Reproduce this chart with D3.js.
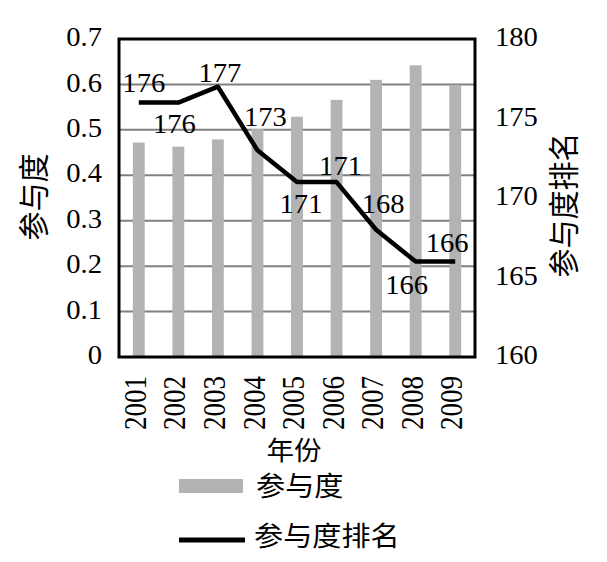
<!DOCTYPE html>
<html><head><meta charset="utf-8">
<script src="https://cdn.jsdelivr.net/npm/d3@7"></script>
<style>body{margin:0;background:#fff}
.sf{font-family:"Liberation Serif","DejaVu Serif","Times New Roman",serif}
.cj{font-family:"Noto Sans CJK SC","Noto Sans CJK JP",sans-serif}
</style>
</head><body>
<svg id="c" width="607" height="562"></svg>
<script>
const years = ["2001","2002","2003","2004","2005","2006","2007","2008","2009"];
const participation = [0.472,0.463,0.479,0.502,0.529,0.566,0.610,0.642,0.599];
const ranking = [176,176,177,173,171,171,168,166,166];
const leftTicks = [0,0.1,0.2,0.3,0.4,0.5,0.6,0.7];
const rightTicks = [160,165,170,175,180];
const labelOffsets = [[5,-11],[-4,30],[2,-5],[8,-24],[4,31],[4,-7],[7,-17],[-9,32],[-8,-10]];

const svg = d3.select("#c");
const L=119, R=475, T=39, B=357;

const x = d3.scaleBand().domain(years).range([L,R]).paddingInner(0.7).paddingOuter(0.35);
const y = d3.scaleLinear().domain([0,0.7]).range([B,T]);
const y2 = d3.scaleLinear().domain([160,180]).range([B,T]);

function txt(px, py, s, opt={}){
  const g = svg.append("g").attr("transform",`translate(${px},${py})${opt.rot?` rotate(${opt.rot})`:""}`);
  const sc = opt.rot ? `scale(1,${opt.sy||1})` : `scale(${opt.sx||1.06},1)`;
  g.append("text").attr("transform",sc)
    .attr("class", opt.cjk ? "cj" : "sf")
    .attr("text-anchor",opt.anchor||"middle")
    .attr("dominant-baseline",opt.baseline||"auto")
    .style("font-size",(opt.size||27)+"px")
    .attr("fill","#000").text(s);
}

// gridlines
svg.append("g").selectAll("line").data(leftTicks.filter(t=>t>0&&t<0.7)).join("line")
  .attr("x1",L).attr("x2",R).attr("y1",d=>y(d)).attr("y2",d=>y(d))
  .attr("stroke","#808080").attr("stroke-width",2);

// bars
svg.append("g").selectAll("rect").data(participation).join("rect")
  .attr("x",(d,i)=>x(years[i])).attr("width",x.bandwidth())
  .attr("y",d=>y(d)).attr("height",d=>B-y(d)).attr("fill","#b3b3b3");

// frame
svg.append("rect").attr("x",L).attr("y",T).attr("width",R-L).attr("height",B-T)
  .attr("fill","none").attr("stroke","#000").attr("stroke-width",3);

// line
const cx = i => x(years[i]) + x.bandwidth()/2;
svg.append("path").datum(ranking)
  .attr("d", d3.line().x((d,i)=>cx(i)).y(d=>y2(d)))
  .attr("fill","none").attr("stroke","#000").attr("stroke-width",4.5).attr("stroke-linejoin","round");

// line labels
ranking.forEach((v,i)=>{
  txt(cx(i)+labelOffsets[i][0], y2(v)+labelOffsets[i][1], String(v));
});

// left ticks
leftTicks.forEach(t=>txt(102, y(t)+1, String(t), {anchor:"end", baseline:"middle"}));
// right ticks
rightTicks.forEach(t=>txt(495, y2(t)+1, String(t), {anchor:"start", baseline:"middle"}));
// x ticks
years.forEach(yr=>txt(x(yr)+x.bandwidth()/2, 376, yr, {rot:-90, anchor:"end", baseline:"middle", size:27, sy:1.14}));

// axis titles
txt(294, 453, "年份", {cjk:true, size:26, sx:1.06, baseline:"middle"});
txt(37, 197, "参与度", {cjk:true, size:29, sy:1.05, rot:-90, baseline:"middle"});
txt(567, 205, "参与度排名", {cjk:true, size:29, sy:1.05, rot:-90, baseline:"middle"});

// legend
svg.append("rect").attr("x",179).attr("y",479).attr("width",64).attr("height",14).attr("fill","#b3b3b3");
txt(256, 489, "参与度", {cjk:true, size:27, sx:1.08, anchor:"start", baseline:"middle"});
svg.append("line").attr("x1",179).attr("x2",245).attr("y1",540).attr("y2",540).attr("stroke","#000").attr("stroke-width",5);
txt(254, 539, "参与度排名", {cjk:true, size:27, sx:1.08, anchor:"start", baseline:"middle"});
</script>
</body></html>
